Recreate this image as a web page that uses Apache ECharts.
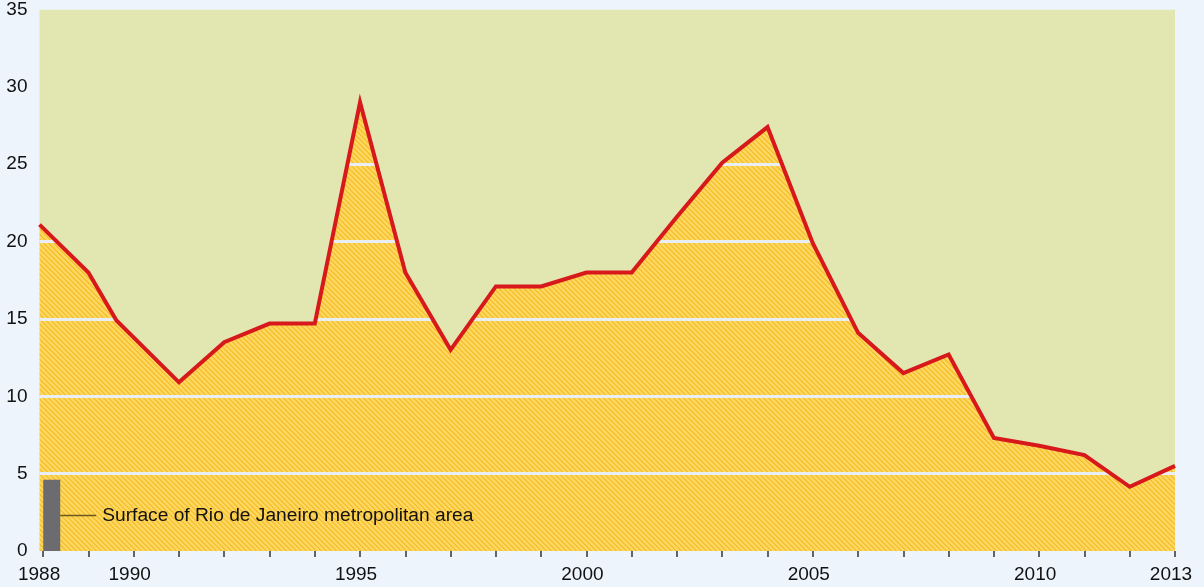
<!DOCTYPE html>
<html><head><meta charset="utf-8">
<script src="https://cdn.jsdelivr.net/npm/echarts@6/dist/echarts.min.js"></script>
<style>html,body{margin:0;padding:0;background:#eef4fc;}#c{width:1204px;height:587px;}</style>
</head><body><div id="c"></div>
<script>
// Deforested area, thousand km²
const years = [1987.92, 1989, 1989.62, 1991, 1992, 1993, 1994, 1995, 1996, 1997, 1998, 1999, 2000,
               2001, 2002, 2003, 2004, 2005, 2006, 2007, 2008, 2009, 2010, 2011, 2012, 2013];
const values = [21.1, 18.0, 14.9, 10.9, 13.5, 14.7, 14.7, 29.0, 18.0, 13.0, 17.1, 17.1, 18.0,
                18.0, 21.6, 25.1, 27.4, 19.9, 14.1, 11.5, 12.7, 7.3, 6.8, 6.2, 4.15, 5.5];
const tickYears = [1988,1989,1990,1991,1992,1993,1994,1995,1996,1997,1998,1999,2000,2001,2002,2003,2004,2005,2006,2007,2008,2009,2010,2011,2012,2013];
const labelYears = [1988, 1990, 1995, 2000, 2005, 2010, 2013];
const yTicks = [5, 10, 15, 20, 25, 30];
const rioLabel = 'Surface of Rio de Janeiro metropolitan area';
const rioValue = 4.6;
const rioYear = 1988.19;

function stripePattern() {
  const n = 5, cv = document.createElement('canvas');
  cv.width = n; cv.height = n;
  const ctx = cv.getContext('2d');
  const img = ctx.createImageData(n, n);
  for (let y = 0; y < n; y++) for (let x = 0; x < n; x++) {
    const k = ((x - y) % n + n) % n;
    const i = (y * n + x) * 4;
    const dark = k < 2;
    img.data[i] = dark ? 247 : 254;
    img.data[i+1] = dark ? 194 : 215;
    img.data[i+2] = dark ? 48 : 98;
    img.data[i+3] = 255;
  }
  ctx.putImageData(img, 0, 0);
  return cv;
}

const pts = years.map((y, i) => [y, values[i]]);
const chart = echarts.init(document.getElementById('c'));
chart.setOption({
  backgroundColor: '#eef4fc',
  animation: false,
  grid: { left: 39.5, right: 29, top: 9, bottom: 36 },
  xAxis: {
    type: 'value', min: 1987.92, max: 2013,
    axisLine: { show: false },
    splitLine: { show: false },
    axisTick: { show: true, customValues: tickYears, length: 6, lineStyle: { color: '#333', width: 1.5 } },
    axisLabel: { customValues: labelYears, color: '#111', fontSize: 19, fontFamily: 'Liberation Sans, Arial',
                 margin: 14, padding: [0, 8, 0, 0], formatter: v => String(v) }
  },
  yAxis: {
    type: 'value', min: 0, max: 35, interval: 5,
    axisLine: { show: false }, axisTick: { show: false },
    splitLine: { show: false },
    axisLabel: { color: '#111', fontSize: 19, fontFamily: 'Liberation Sans, Arial', margin: 12 }
  },
  series: [
    {
      type: 'line', data: pts, z: 1, symbol: 'none', silent: true,
      lineStyle: { width: 0 },
      areaStyle: { color: { image: stripePattern(), repeat: 'repeat' }, opacity: 1 },
      markLine: {
        z: 2, silent: true, symbol: 'none', label: { show: false },
        lineStyle: { color: '#e8eef2', width: 3, type: 'solid' },
        data: yTicks.map(v => ({ yAxis: v }))
      }
    },
    {
      type: 'line', data: pts, z: 3, symbol: 'none', silent: true,
      lineStyle: { width: 0 },
      areaStyle: { color: '#e2e6b0', opacity: 1, origin: 'end' }
    },
    {
      type: 'line', data: pts, z: 5, symbol: 'none', silent: true,
      lineStyle: { color: '#d7191c', width: 4, join: 'miter' }
    },
    {
      type: 'bar', data: [[rioYear, rioValue]], z: 4, barWidth: 17, silent: true,
      itemStyle: { color: '#6c6c70' },
      label: {
        show: true, position: 'right', distance: 0,
        formatter: '{l|}{t|' + rioLabel + '}',
        rich: {
          l: { width: 36, height: 1.5, backgroundColor: '#6b5a1e' },
          t: { fontSize: 19.2, color: '#111', fontFamily: 'Liberation Sans, Arial', padding: [0, 0, 0, 6] }
        }
      }
    }
  ]
});
</script>
</body></html>
